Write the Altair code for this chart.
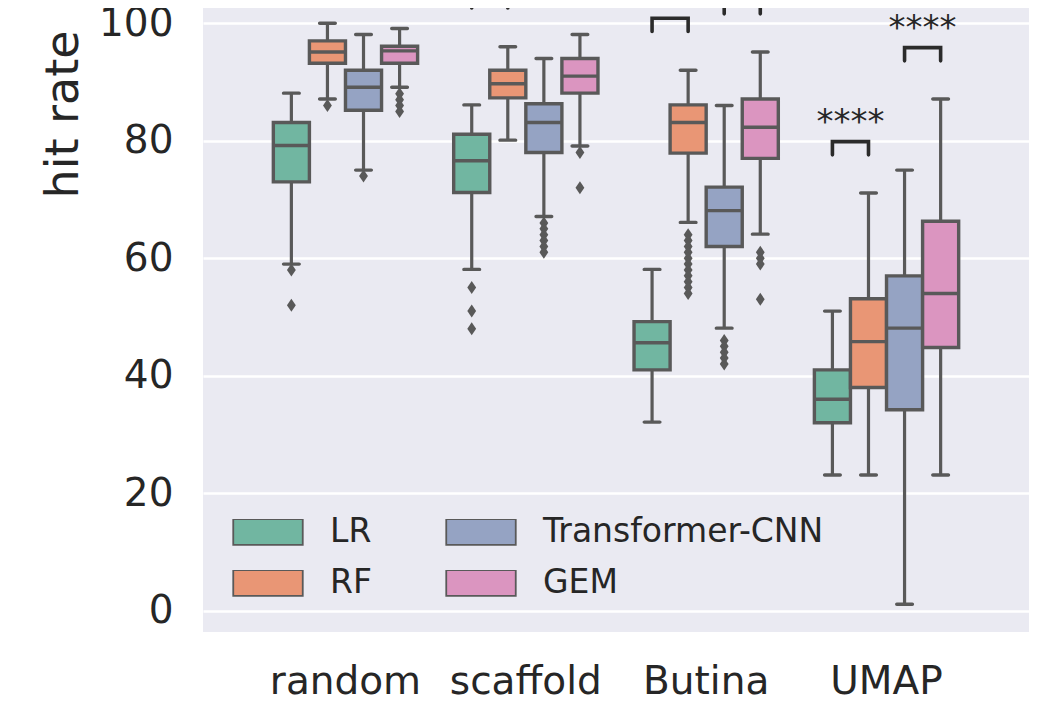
import altair as alt
import pandas as pd

splits = ["random", "scaffold", "Butina", "UMAP"]
models = ["LR", "RF", "Transformer-CNN", "GEM"]
colors = {"LR": "#71b6a1", "RF": "#e99675", "Transformer-CNN": "#95a3c3", "GEM": "#db95c0"}
gray = "#595959"

# box statistics, one row per split, columns in model order
q1 = [[73.0, 93.2, 85.2, 93.2],
      [71.2, 87.3, 78.0, 88.1],
      [41.0, 77.9, 62.0, 77.0],
      [32.0, 38.0, 34.2, 44.8]]
median = [[79.2, 95.1, 89.1, 95.3],
          [76.6, 89.7, 83.1, 91.0],
          [45.6, 83.1, 68.1, 82.3],
          [36.0, 45.8, 48.1, 54.0]]
q3 = [[83.1, 97.0, 92.0, 96.1],
      [81.1, 92.0, 86.3, 94.0],
      [49.2, 86.1, 72.1, 87.1],
      [41.0, 53.1, 57.0, 66.3]]
whisker_lo = [[59.0, 87.1, 75.0, 89.1],
              [58.1, 80.1, 67.1, 79.1],
              [32.1, 66.1, 48.1, 64.1],
              [23.1, 23.1, 1.1, 23.1]]
whisker_hi = [[88.1, 100.0, 98.1, 99.1],
              [86.1, 96.0, 94.0, 98.1],
              [58.1, 92.0, 86.0, 95.1],
              [51.0, 71.1, 75.0, 87.1]]

# outliers (split, model, values)
outliers = [
    ("random", "LR", [58, 52]),
    ("random", "RF", [86]),
    ("random", "Transformer-CNN", [74]),
    ("random", "GEM", [88, 87, 86, 85]),
    ("scaffold", "LR", [55, 51, 48]),
    ("scaffold", "Transformer-CNN", [66, 65, 64, 63, 62, 61]),
    ("scaffold", "GEM", [78, 72]),
    ("Butina", "RF", [64, 63, 62, 61, 60, 59, 58, 57, 56, 55, 54]),
    ("Butina", "Transformer-CNN", [46, 45, 44, 43, 42]),
    ("Butina", "GEM", [61, 60, 59, 53]),
]

# significance brackets (the top ones run off the cropped view)
br_split = ["scaffold", "Butina", "Butina", "UMAP", "UMAP"]
br_left = ["LR", "LR", "Transformer-CNN", "LR", "Transformer-CNN"]
br_right = ["RF", "RF", "GEM", "RF", "GEM"]
br_low = [102.6, 98.6, 101.6, 77.6, 93.6]
br_top = [104.8, 100.85, 103.8, 79.85, 95.85]
br_label = ["****", "****", "****", "****", "****"]

rows = []
for i, s in enumerate(splits):
    for j, m in enumerate(models):
        rows.append({"split": s, "model": m, "q1": q1[i][j], "median": median[i][j],
                     "q3": q3[i][j], "lo": whisker_lo[i][j], "hi": whisker_hi[i][j]})
boxes = pd.DataFrame(rows)

flier_df = pd.DataFrame([{"split": s, "model": m, "value": v}
                         for s, m, vals in outliers for v in vals])

line_rows = []
for k in range(len(br_split)):
    pts = [(br_left[k], br_low[k]), (br_left[k], br_top[k]),
           (br_right[k], br_top[k]), (br_right[k], br_low[k])]
    for n, (m, v) in enumerate(pts):
        line_rows.append({"id": k, "order": n, "split": br_split[k], "model": m, "value": v})
bracket_df = pd.DataFrame(line_rows)
star_df = pd.DataFrame({"split": br_split, "model": br_left,
                        "value": [t + 1.5 for t in br_top], "label": br_label})

font = "DejaVu Sans"
text_color = "#262626"

x_enc = alt.X("split:N", sort=splits, title=None,
              scale=alt.Scale(paddingOuter=0.29, paddingInner=0),
              axis=alt.Axis(labelFontSize=39, labelColor=text_color, labelFont=font,
                            labelAngle=0, ticks=False, tickSize=0, domain=False,
                            labelPadding=61, labelBaseline="alphabetic", grid=False))
xo_enc = alt.XOffset("model:N", sort=models,
                     scale=alt.Scale(domain=models, paddingOuter=0.5, paddingInner=0))
y_scale = alt.Scale(domain=[-3.63, 102.6], nice=False, zero=False)
y_axis = alt.Axis(values=[0, 20, 40, 60, 80, 100], labelFontSize=39, labelColor=text_color,
                  labelFont=font, ticks=False, tickSize=0, domain=False, labelPadding=30,
                  gridColor="white", gridWidth=2.6, title="hit rate", titleFontSize=46,
                  titleFont=font, titleColor=text_color, titleFontWeight="normal",
                  titleX=-126, titleY=106, titleAngle=270, titleAlign="center",
                  titleBaseline="alphabetic")

base = alt.Chart(boxes).encode(x=x_enc, xOffset=xo_enc)

whisk = base.mark_rule(color=gray, strokeWidth=3.2).encode(
    y=alt.Y("lo:Q", scale=y_scale, axis=y_axis), y2="hi:Q")

box = base.mark_bar(stroke=gray, strokeWidth=3.4, opacity=1).encode(
    y="q1:Q", y2="q3:Q",
    color=alt.Color("model:N",
                    scale=alt.Scale(domain=models, range=[colors[m] for m in models]),
                    legend=alt.Legend(title=None, orient="none", legendX=29, legendY=511,
                                      columns=2, columnPadding=73, rowPadding=18,
                                      symbolType="M-1,-0.37H1V0.37H-1Z", symbolSize=4830,
                                      symbolStrokeColor=gray, symbolStrokeWidth=1.8,
                                      symbolOpacity=1, clipHeight=26, labelOffset=26,
                                      labelFontSize=33, labelFont=font, labelLimit=500,
                                      labelColor=text_color, padding=0)))

med = base.mark_tick(color=gray, thickness=3.4, size=36, opacity=1).encode(y="median:Q")
cap_lo = base.mark_tick(color=gray, thickness=3.4, size=19, opacity=1,
                        cornerRadius=1.7).encode(y="lo:Q")
cap_hi = base.mark_tick(color=gray, thickness=3.4, size=19, opacity=1,
                        cornerRadius=1.7).encode(y="hi:Q")

fliers = alt.Chart(flier_df).mark_point(
    shape="M0,-1L0.68,0L0,1L-0.68,0Z", size=169, filled=True, color=gray, opacity=1
).encode(x=x_enc, xOffset=xo_enc, y="value:Q")

brackets = alt.Chart(bracket_df).mark_line(
    color="#2b2b2b", strokeWidth=3.6, strokeCap="round", strokeJoin="miter"
).encode(x=x_enc, xOffset=xo_enc, y="value:Q", detail="id:N", order="order:Q")

# only the star labels that fall inside the visible range
stars = alt.Chart(star_df).transform_filter(
    alt.datum.value < 100
).mark_text(
    font=font, fontSize=34, color=text_color, dx=18, baseline="alphabetic", align="center"
).encode(x=x_enc, xOffset=xo_enc, y="value:Q", text="label:N")

chart = alt.layer(whisk, box, med, cap_lo, cap_hi, fliers, brackets, stars).properties(
    width=826, height=624, autosize="none",
    padding={"left": 195, "top": 0, "right": 0, "bottom": 70},
    background="white"
).configure_view(fill="#eaeaf2", stroke=None)

chart.save("out.html", embed_options={"renderer": "svg", "actions": False})
